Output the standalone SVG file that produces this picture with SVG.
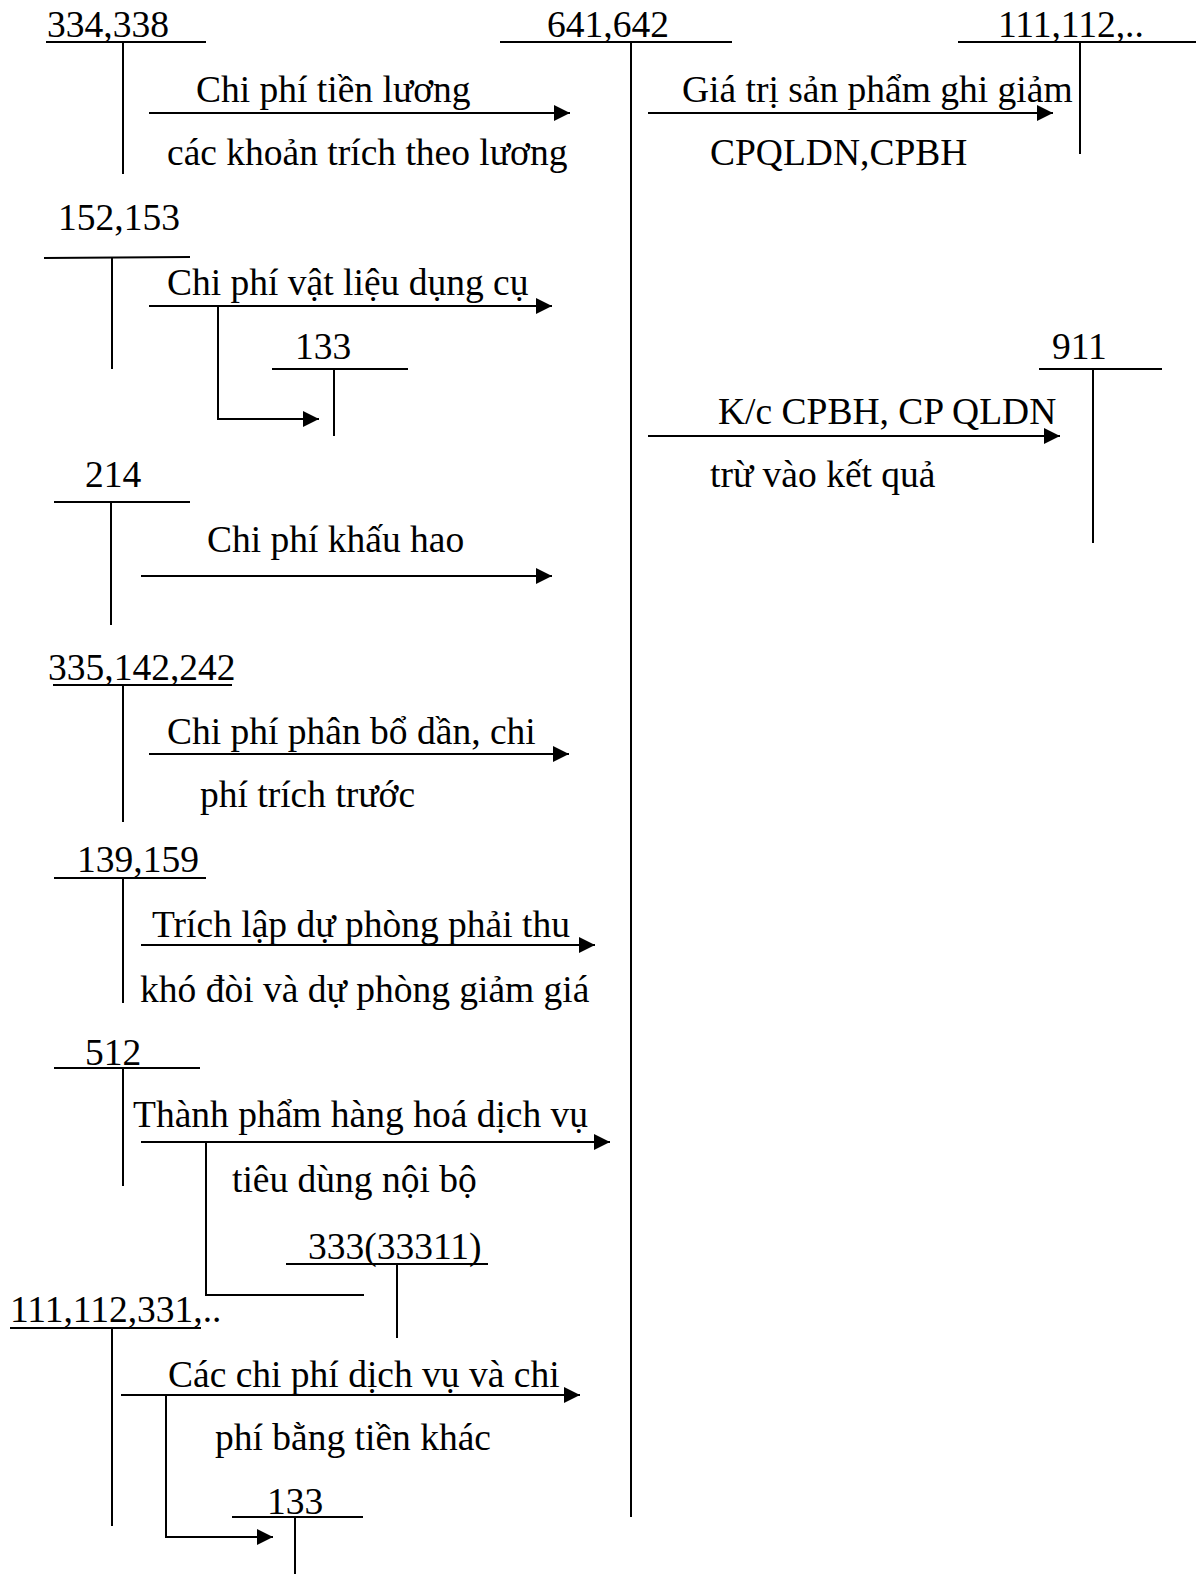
<svg xmlns="http://www.w3.org/2000/svg" width="1196" height="1574" viewBox="0 0 1196 1574">
<defs>
<marker id="ah" viewBox="0 0 16 16" refX="16" refY="8" markerWidth="16" markerHeight="16" markerUnits="userSpaceOnUse" orient="auto">
<path d="M0,0 L16,8 L0,16 Z" fill="#000"/>
</marker>
<style>
text{font-family:"Liberation Serif","Times New Roman",serif;font-size:37.5px;fill:#000}
line,polyline{stroke:#000;stroke-width:2;fill:none}
.arr{marker-end:url(#ah)}
</style>
</defs>
<rect width="1196" height="1574" fill="#fff"/>
<g id="acc-334"><text x="47" y="37">334,338</text><line x1="46" y1="42" x2="206" y2="42"/><line x1="123" y1="42" x2="123" y2="174"/></g>
<g id="acc-641"><text x="547" y="37">641,642</text><line x1="500" y1="42" x2="732" y2="42"/><line x1="631" y1="42" x2="631" y2="1517"/></g>
<g id="acc-111a"><text x="998" y="37">111,112,..</text><line x1="958" y1="42" x2="1196" y2="42"/><line x1="1080" y1="42" x2="1080" y2="154"/></g>
<g id="acc-152"><text x="58" y="230">152,153</text><line x1="44" y1="258" x2="190" y2="257"/><line x1="112" y1="258" x2="112" y2="369"/></g>
<g id="acc-133a"><text x="295" y="359">133</text><line x1="272" y1="369" x2="408" y2="369"/><line x1="334" y1="369" x2="334" y2="436"/></g>
<g id="acc-911"><text x="1052" y="359">911</text><line x1="1039" y1="369" x2="1162" y2="369"/><line x1="1093" y1="369" x2="1093" y2="543"/></g>
<g id="acc-214"><text x="85" y="487">214</text><line x1="54" y1="502" x2="190" y2="502"/><line x1="111" y1="502" x2="111" y2="625"/></g>
<g id="acc-335"><text x="48" y="680">335,142,242</text><line x1="53" y1="685" x2="232" y2="685"/><line x1="123" y1="685" x2="123" y2="822"/></g>
<g id="acc-139"><text x="77" y="872">139,159</text><line x1="54" y1="878" x2="206" y2="878"/><line x1="123" y1="878" x2="123" y2="1003"/></g>
<g id="acc-512"><text x="85" y="1065">512</text><line x1="54" y1="1068" x2="200" y2="1068"/><line x1="123" y1="1068" x2="123" y2="1186"/></g>
<g id="acc-333"><text x="308" y="1259">333(33311)</text><line x1="286" y1="1264" x2="488" y2="1264"/><line x1="397" y1="1264" x2="397" y2="1338"/></g>
<g id="acc-111b"><text x="10" y="1322">111,112,331,..</text><line x1="10" y1="1328" x2="201" y2="1328"/><line x1="112" y1="1328" x2="112" y2="1526"/></g>
<g id="acc-133b"><text x="267" y="1514">133</text><line x1="232" y1="1517" x2="363" y2="1517"/><line x1="295" y1="1517" x2="295" y2="1574"/></g>
<g id="connectors">
<line class="arr" x1="149" y1="113" x2="570" y2="113"/>
<line class="arr" x1="648" y1="113" x2="1053" y2="113"/>
<line class="arr" x1="149" y1="306" x2="552" y2="306"/>
<polyline class="arr" points="218,306 218,419 319,419"/>
<line class="arr" x1="648" y1="436" x2="1060" y2="436"/>
<line class="arr" x1="141" y1="576" x2="552" y2="576"/>
<line class="arr" x1="149" y1="754" x2="569" y2="754"/>
<line class="arr" x1="141" y1="945" x2="595" y2="945"/>
<line class="arr" x1="141" y1="1142" x2="610" y2="1142"/>
<polyline points="206,1142 206,1295 364,1295"/>
<line class="arr" x1="121" y1="1395" x2="580" y2="1395"/>
<polyline class="arr" points="166,1395 166,1537 273,1537"/>
</g>
<g id="labels">
<text x="196" y="102">Chi phí tiền lương</text>
<text x="167" y="165">các khoản trích theo lương</text>
<text x="682" y="102">Giá trị sản phẩm ghi giảm</text>
<text x="710" y="165">CPQLDN,CPBH</text>
<text x="167" y="295">Chi phí vật liệu dụng cụ</text>
<text x="718" y="424">K/c CPBH, CP QLDN</text>
<text x="710" y="487">trừ vào kết quả</text>
<text x="207" y="552">Chi phí khấu hao</text>
<text x="167" y="744">Chi phí phân bổ dần, chi</text>
<text x="200" y="807">phí trích trước</text>
<text x="152" y="937">Trích lập dự phòng phải thu</text>
<text x="140" y="1002">khó đòi và dự phòng giảm giá</text>
<text x="133" y="1127">Thành phẩm hàng hoá dịch vụ</text>
<text x="232" y="1192">tiêu dùng nội bộ</text>
<text x="168" y="1387">Các chi phí dịch vụ và chi</text>
<text x="215" y="1450">phí bằng tiền khác</text>
</g>
</svg>
